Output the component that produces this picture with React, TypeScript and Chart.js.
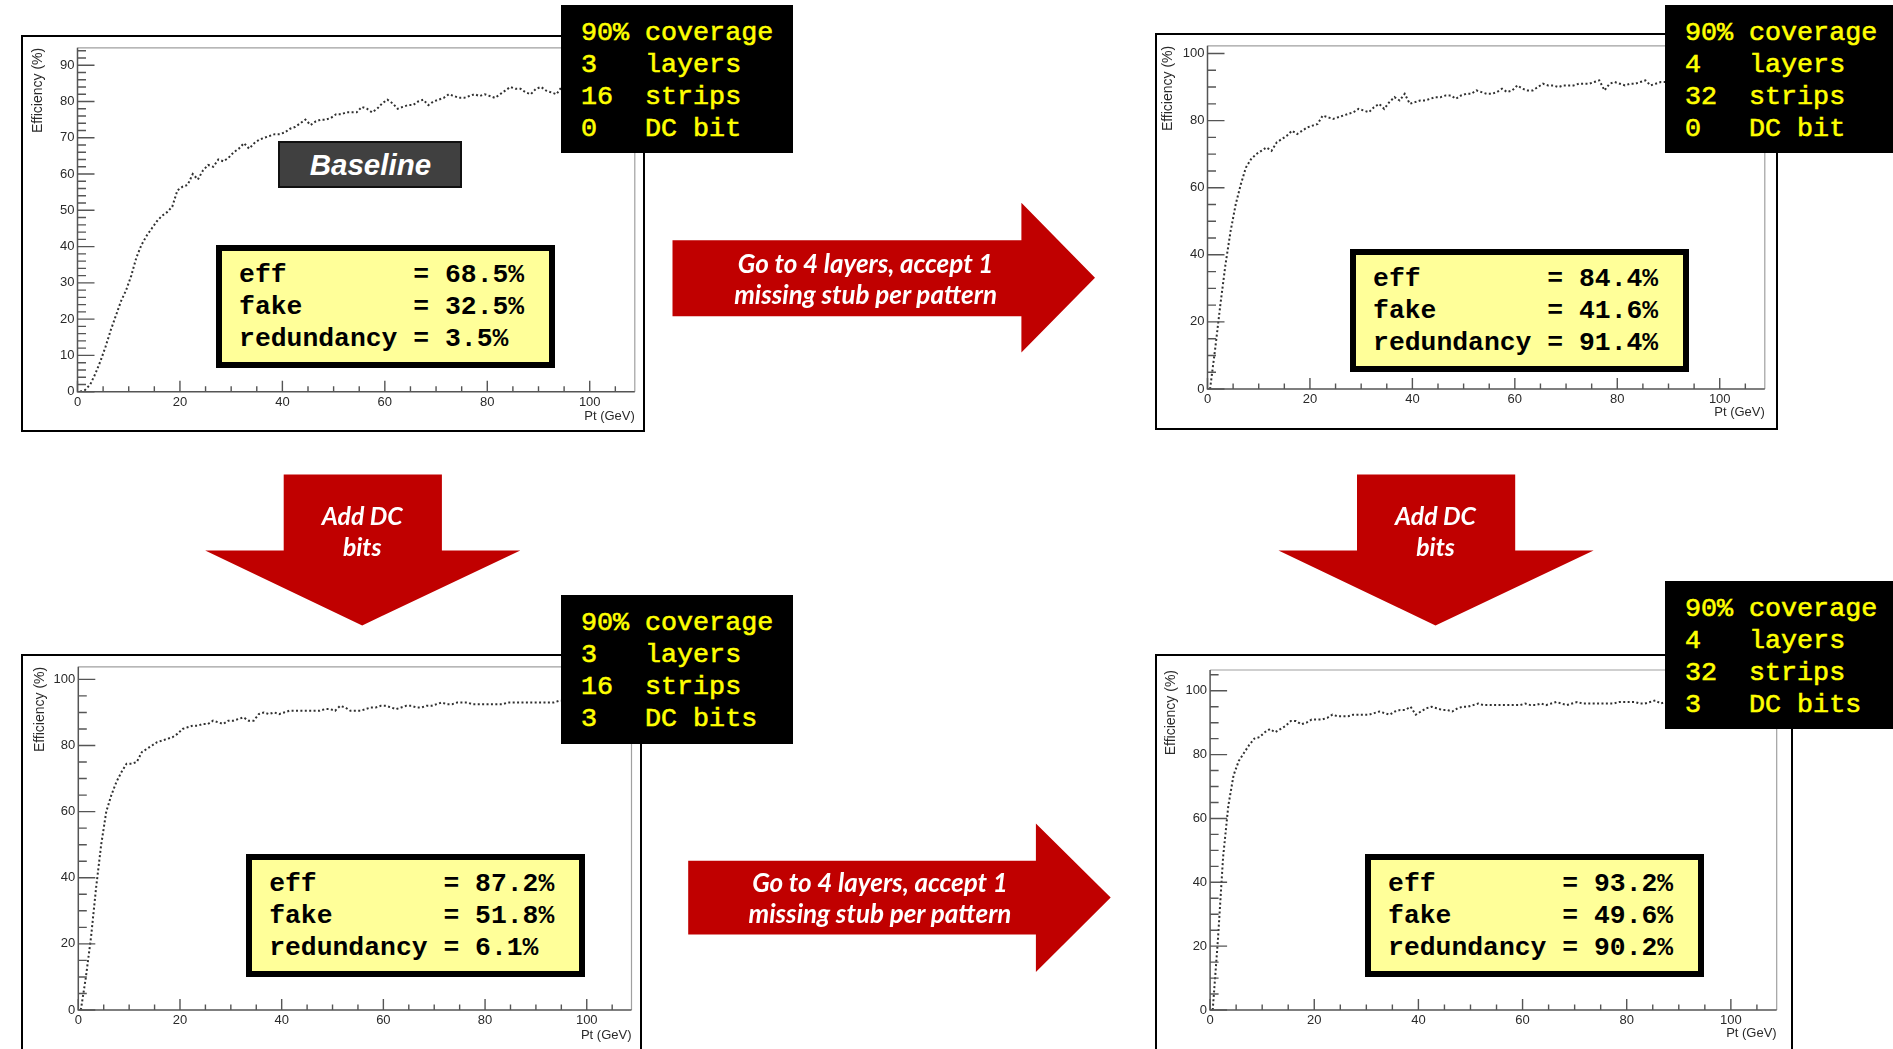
import React, { useEffect, useRef } from 'react';
import { Chart, registerables } from 'chart.js';

Chart.register(...registerables);

// ---------- DATA ----------
const PT_BINS = [
  0.5, 1.5, 2.5, 3.5, 4.5, 5.5, 6.5, 7.5, 8.5, 9.5,
  10.5, 11.5, 12.5, 13.5, 14.5, 15.5, 16.5, 17.5, 18.5, 19.5,
  20.5, 21.5, 22.5, 23.5, 24.5, 25.5, 26.5, 27.5, 28.5, 29.5,
  30.5, 31.5, 32.5, 33.5, 34.5, 35.5, 36.5, 37.5, 38.5, 39.5,
  40.5, 41.5, 42.5, 43.5, 44.5, 45.5, 46.5, 47.5, 48.5, 49.5,
  50.5, 51.5, 52.5, 53.5, 54.5, 55.5, 56.5, 57.5, 58.5, 59.5,
  60.5, 61.5, 62.5, 63.5, 64.5, 65.5, 66.5, 67.5, 68.5, 69.5,
  70.5, 71.5, 72.5, 73.5, 74.5, 75.5, 76.5, 77.5, 78.5, 79.5,
  80.5, 81.5, 82.5, 83.5, 84.5, 85.5, 86.5, 87.5, 88.5, 89.5,
  90.5, 91.5, 92.5, 93.5, 94.5, 95.5, 96.5, 97.5, 98.5, 99.5,
];

// 3 layers, 16 strips, 0 DC bit (Baseline)
const EFF_BASELINE = [
  0, 0.5, 2, 5, 8.5, 12.5, 17, 21, 25, 28,
  32, 37, 40.5, 43, 45, 47, 48.5, 49.5, 51, 55.5,
  56.5, 57, 60, 58.5, 61, 62.5, 62, 64, 63.5, 64.5,
  66, 67, 68.5, 67, 68.5, 69.5, 70, 70.5, 71, 71,
  71.5, 72.5, 73, 74, 75, 73.5, 74.5, 75, 75, 75.5,
  76.5, 76.5, 77, 77, 77, 78.5, 78, 77, 78, 79.5,
  80.5, 79.5, 78, 78.5, 79, 79, 80, 80.5, 79, 80,
  80.5, 81, 82, 81.5, 81, 81, 81.5, 82, 81.5, 82,
  81.5, 81, 82, 83, 84, 83.5, 83.5, 82.5, 82, 83.5,
  84, 83, 82.5, 82, 84, 84, 83.5, 83, 83.5, 84,
];

// 4 layers, 32 strips, 0 DC bit
const EFF_4LAYERS = [
  0, 12, 25, 37, 47, 55, 61, 66, 68.5, 70,
  71, 72, 71, 73.5, 74.5, 75.5, 77, 76, 77, 78,
  78.5, 79, 81.5, 81, 80.5, 81, 81.5, 82, 82.5, 83.5,
  83, 82.5, 84, 85, 83.5, 85.5, 87, 86, 88, 85,
  85.5, 86, 86, 86.5, 87, 87, 87.5, 87.5, 86.5, 87.5,
  88, 88, 89, 88.5, 88, 88, 88.5, 89.5, 88.5, 89,
  90.5, 89.5, 89, 89, 90, 91, 90.5, 90.5, 90, 90.5,
  90.5, 90.5, 91, 91, 91, 91.5, 92, 89, 91, 91.5,
  91, 90.5, 91, 91, 91.5, 92, 90.5, 91, 91.5, 91.5,
  92, 91.5, 92, 91.5, 92, 92, 91.5, 92, 92.5, 92,
];

// 3 layers, 16 strips, 3 DC bits
const EFF_DC = [
  0, 10, 22, 37, 50, 60, 65, 69, 72, 74.5,
  74.5, 75, 78, 79, 80, 81, 81.5, 82, 82.5, 83.5,
  85, 85.5, 86, 86, 86.5, 86.5, 87.5, 87, 86.5, 87.5,
  87.5, 88, 88.5, 87.5, 87.5, 89.5, 90, 89.5, 90, 89.5,
  90, 90.5, 90.5, 90.5, 90.5, 90.5, 90.5, 90.5, 91, 91,
  90.5, 92, 91.5, 90.5, 90.5, 90.5, 91, 91.5, 91.5, 92,
  92, 91.5, 91, 91.5, 92, 92, 91.5, 91.5, 92, 92,
  92.5, 93, 92.5, 92.5, 93, 93, 93, 92.5, 92.5, 92.5,
  92.5, 92.5, 92.5, 92.5, 93, 93, 93, 93, 93, 93,
  93, 93, 93, 93, 93.5, 93.5, 93, 93.5, 93.5, 93.5,
];

// 4 layers, 32 strips, 3 DC bits
const EFF_4LAYERS_DC = [
  0, 22, 48, 64, 73.5, 78, 80.5, 83, 85, 85.5,
  87, 88, 87, 88, 89, 90.5, 90.5, 89.5, 90, 91,
  91, 91, 91.5, 92.5, 92, 92, 92, 92.5, 92.5, 92.5,
  92.5, 93, 93.5, 93, 92.5, 93.5, 94, 94, 95, 92.5,
  93.5, 94.5, 95, 94.5, 94, 94, 93.5, 94.5, 95, 95,
  95.5, 96, 95.5, 95.5, 95.5, 95.5, 95.5, 95.5, 95.5, 95.5,
  96, 95.5, 95.5, 96, 95.5, 96, 96.5, 96, 95.5, 96,
  96.5, 96, 96, 96, 96, 96, 96, 96, 96.5, 96.5,
  96.5, 96.5, 96, 96, 96.5, 97, 96, 96.5, 96.5, 96.5,
  96.5, 96.5, 96.5, 97, 96.5, 96.5, 97, 96.5, 96.5, 97,
];

const X_TITLE = 'Pt (GeV)';
const Y_TITLE = 'Efficiency (%)';

const INFO_TL = ['90% coverage', '3   layers', '16  strips', '0   DC bit'];
const INFO_TR = ['90% coverage', '4   layers', '32  strips', '0   DC bit'];
const INFO_BL = ['90% coverage', '3   layers', '16  strips', '3   DC bits'];
const INFO_BR = ['90% coverage', '4   layers', '32  strips', '3   DC bits'];

const STATS_TL = ['eff        = 68.5%', 'fake       = 32.5%', 'redundancy = 3.5%'];
const STATS_TR = ['eff        = 84.4%', 'fake       = 41.6%', 'redundancy = 91.4%'];
const STATS_BL = ['eff        = 87.2%', 'fake       = 51.8%', 'redundancy = 6.1%'];
const STATS_BR = ['eff        = 93.2%', 'fake       = 49.6%', 'redundancy = 90.2%'];

const ARROW_RIGHT_TEXT = ['Go to 4 layers, accept 1', 'missing stub per pattern'];
const ARROW_DOWN_TEXT = ['Add DC', 'bits'];

// ---------- LAYOUT ----------
const X_MAX = 108.8;

type PanelCfg = {
  left: number; top: number; w: number; h: number; ch: number;
  yW: number; padTop: number; padRight: number; xH: number;
  yTitlePad: number; xTitlePad: number;
  yMax: number; yMajor: number; yMinor: number;
  values: number[];
};

const PANELS: PanelCfg[] = [
  { left: 21, top: 35, w: 624, h: 397, ch: 393, yW: 54.5, padTop: 10.3, padRight: 8.2, xH: 38.3, yTitlePad: 6.7, xTitlePad: 5.5, yMax: 94.8, yMajor: 10, yMinor: 2, values: EFF_BASELINE },
  { left: 1155, top: 33, w: 623, h: 397, ch: 393, yW: 50.5, padTop: 10, padRight: 11.2, xH: 39, yTitlePad: 2.7, xTitlePad: 7.5, yMax: 102.3, yMajor: 20, yMinor: 5, values: EFF_4LAYERS },
  { left: 21, top: 654, w: 621, h: 420, ch: 394, yW: 55.3, padTop: 9, padRight: 8.5, xH: 40, yTitlePad: 8.7, xTitlePad: 7.2, yMax: 103.8, yMajor: 20, yMinor: 5, values: EFF_DC },
  { left: 1155, top: 654, w: 638, h: 420, ch: 394, yW: 53.1, padTop: 14, padRight: 14.3, xH: 40, yTitlePad: 5.3, xTitlePad: 8.9, yMax: 106.5, yMajor: 20, yMinor: 5, values: EFF_4LAYERS_DC },
];

const rootAxes = {
  id: 'rootAxes',
  afterDraw(chart: any, _args: any, opts: any) {
    const { ctx, chartArea: a, scales } = chart;
    const x = scales.x;
    const y = scales.y;
    ctx.save();
    // frame top/right
    ctx.strokeStyle = '#a0a0a0';
    ctx.lineWidth = 1.2;
    ctx.beginPath();
    ctx.moveTo(a.left, a.top);
    ctx.lineTo(a.right, a.top);
    ctx.lineTo(a.right, a.bottom);
    ctx.stroke();
    // axes
    ctx.strokeStyle = '#555';
    ctx.lineWidth = 1.5;
    ctx.beginPath();
    ctx.moveTo(a.left, a.top);
    ctx.lineTo(a.left, a.bottom);
    ctx.lineTo(a.right, a.bottom);
    ctx.stroke();
    // ticks (inward)
    ctx.lineWidth = 1.4;
    ctx.beginPath();
    for (let v = 0; v <= x.max + 1e-6; v += opts.xMinor) {
      const px = x.getPixelForValue(v);
      const major = v % opts.xMajor === 0;
      ctx.moveTo(px, a.bottom);
      ctx.lineTo(px, a.bottom - (major ? 11 : 5.5));
    }
    for (let v = 0; v <= y.max + 1e-6; v += opts.yMinor) {
      const py = y.getPixelForValue(v);
      const major = v % opts.yMajor === 0;
      ctx.moveTo(a.left, py);
      ctx.lineTo(a.left + (major ? 17 : 8.5), py);
    }
    ctx.stroke();
    ctx.restore();
  },
};

const labelFont = { family: '"Liberation Sans", Arial, sans-serif', size: 13 };

function Panel({ cfg }: { cfg: PanelCfg }) {
  const ref = useRef<HTMLCanvasElement>(null);
  useEffect(() => {
    const canvas = ref.current!;
    const chart = new Chart(canvas, {
      type: 'line',
      data: {
        datasets: [
          {
            data: PT_BINS.map((x, i) => ({ x, y: cfg.values[i] })),
            borderColor: 'rgba(25,25,25,0.9)',
            borderWidth: 2,
            borderDash: [2, 2.4],
            borderCapStyle: 'butt',
            pointRadius: 0,
            fill: false,
            tension: 0,
          },
        ],
      },
      options: {
        responsive: false,
        animation: false,
        events: [],
        layout: { padding: { top: cfg.padTop, right: cfg.padRight, left: 0, bottom: 0 } },
        plugins: {
          legend: { display: false },
          tooltip: { enabled: false },
          rootAxes: { xMajor: 20, xMinor: 5, yMajor: cfg.yMajor, yMinor: cfg.yMinor },
        } as any,
        scales: {
          x: {
            type: 'linear',
            min: 0,
            max: X_MAX,
            afterFit: (s: any) => { s.height = cfg.xH; },
            grid: { display: false, drawTicks: false },
            border: { display: false },
            ticks: {
              stepSize: 20,
              includeBounds: false,
              autoSkip: false,
              maxRotation: 0,
              padding: 3,
              color: '#2a2a2a',
              font: labelFont,
            },
            title: {
              display: true,
              text: X_TITLE,
              align: 'end',
              color: '#2a2a2a',
              font: labelFont,
              padding: { top: 0, bottom: cfg.xTitlePad },
            },
          },
          y: {
            type: 'linear',
            min: 0,
            max: cfg.yMax,
            afterFit: (s: any) => { s.width = cfg.yW; },
            grid: { display: false, drawTicks: false },
            border: { display: false },
            ticks: {
              stepSize: cfg.yMajor,
              includeBounds: false,
              autoSkip: false,
              padding: 3,
              color: '#2a2a2a',
              font: labelFont,
            },
            title: {
              display: true,
              text: Y_TITLE,
              align: 'end',
              color: '#2a2a2a',
              font: { family: '"Liberation Sans", Arial, sans-serif', size: 14 },
              padding: { top: cfg.yTitlePad, bottom: 0 },
            },
          },
        },
      } as any,
      plugins: [rootAxes as any],
    });
    return () => chart.destroy();
  }, [cfg]);
  return (
    <div
      style={{
        position: 'absolute', left: cfg.left, top: cfg.top, width: cfg.w, height: cfg.h,
        border: '2px solid #000', boxSizing: 'border-box', background: '#fff',
      }}
    >
      <canvas ref={ref} width={cfg.w - 4} height={cfg.ch} style={{ display: 'block', width: cfg.w - 4, height: cfg.ch }} />
    </div>
  );
}

function InfoBox({ left, top, w, h, lines }: { left: number; top: number; w: number; h: number; lines: string[] }) {
  return (
    <div
      style={{
        position: 'absolute', left, top, width: w, height: h, background: '#000', boxSizing: 'border-box',
        paddingTop: 12, paddingLeft: 20, color: '#FFFF00', fontFamily: '"Liberation Mono", monospace',
        fontSize: 26.7, lineHeight: '32px', whiteSpace: 'pre', WebkitTextStroke: '0.6px #FFFF00',
      } as any}
    >
      {lines.map((l, i) => <div key={i}>{l}</div>)}
    </div>
  );
}

function StatsBox({ left, top, lines }: { left: number; top: number; lines: string[] }) {
  return (
    <div
      style={{
        position: 'absolute', left, top, width: 339.5, height: 122.5, background: '#FFFF99',
        border: '6px solid #000', boxSizing: 'border-box', paddingTop: 8, paddingLeft: 17.4,
        color: '#000', fontFamily: '"Liberation Mono", monospace', fontWeight: 700,
        fontSize: 26.4, lineHeight: '32px', whiteSpace: 'pre',
      }}
    >
      {lines.map((l, i) => <div key={i}>{l}</div>)}
    </div>
  );
}

function ArrowText({ cx, cy, lines, lh, size }: { cx: number; cy: number; lines: string[]; lh: number; size: number }) {
  return (
    <div
      style={{
        position: 'absolute', left: cx - 200, top: cy - lh / 2, width: 400, textAlign: 'center',
        color: '#fff', fontFamily: 'Lato, "Open Sans", sans-serif', fontWeight: 700, fontStyle: 'italic',
        fontSize: size, lineHeight: `${lh}px`, whiteSpace: 'nowrap',
      }}
    >
      {lines.map((l, i) => <div key={i}>{l}</div>)}
    </div>
  );
}

export default function App() {
  const red = '#C00000';
  return (
    <div style={{ position: 'fixed', left: 0, top: 0, width: 1893, height: 1049, overflow: 'hidden', background: '#fff' }}>
      {PANELS.map((p, i) => <Panel key={i} cfg={p} />)}

      <div
        style={{
          position: 'absolute', left: 278.4, top: 141, width: 184, height: 47, background: '#404040',
          border: '2px solid #111', boxSizing: 'border-box', color: '#fff', display: 'flex',
          alignItems: 'center', justifyContent: 'center', fontFamily: '"Liberation Sans", Arial, sans-serif',
          fontWeight: 700, fontStyle: 'italic', fontSize: 29.5,
        }}
      >
        Baseline
      </div>

      <InfoBox left={561} top={5} w={232} h={148} lines={INFO_TL} />
      <InfoBox left={1665} top={5} w={228} h={148} lines={INFO_TR} />
      <InfoBox left={561} top={595} w={232} h={149} lines={INFO_BL} />
      <InfoBox left={1665} top={581} w={228} h={148} lines={INFO_BR} />

      <StatsBox left={215.7} top={245} lines={STATS_TL} />
      <StatsBox left={1349.7} top={249.3} lines={STATS_TR} />
      <StatsBox left={245.8} top={854} lines={STATS_BL} />
      <StatsBox left={1364.7} top={854} lines={STATS_BR} />

      <svg width={1893} height={1049} style={{ position: 'absolute', left: 0, top: 0, pointerEvents: 'none' }}>
        <polygon fill={red} points="672.5,240.3 1021.4,240.3 1021.4,202.8 1095,277.7 1021.4,352.5 1021.4,316.3 672.5,316.3" />
        <polygon fill={red} points="688.2,860.8 1035.9,860.8 1035.9,823.4 1110.7,897.6 1035.9,971.9 1035.9,934.5 688.2,934.5" />
        <polygon fill={red} points="283.7,474.5 441.9,474.5 441.9,550.5 520.3,550.5 362.2,625.4 205.2,550.5 283.7,550.5" />
        <polygon fill={red} points="1357,474.5 1515.2,474.5 1515.2,550.5 1593.6,550.5 1435.5,625.4 1278.5,550.5 1357,550.5" />
      </svg>

      <ArrowText cx={865.6} cy={263.2} lh={31.4} size={26} lines={ARROW_RIGHT_TEXT} />
      <ArrowText cx={880} cy={882.5} lh={31.5} size={26} lines={ARROW_RIGHT_TEXT} />
      <ArrowText cx={362.2} cy={515.5} lh={31.5} size={24.8} lines={ARROW_DOWN_TEXT} />
      <ArrowText cx={1435.5} cy={515.5} lh={31.5} size={24.8} lines={ARROW_DOWN_TEXT} />
    </div>
  );
}
